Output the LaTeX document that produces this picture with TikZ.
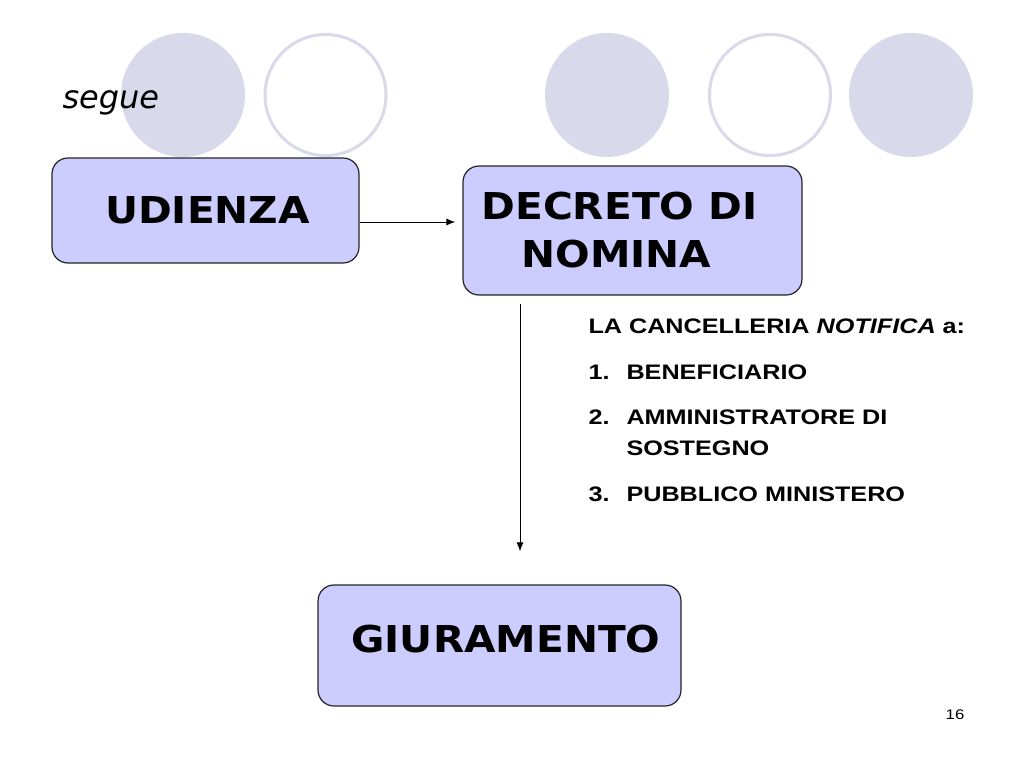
\documentclass[tikz,border=0pt]{standalone}
\usepackage{fontspec}
\usetikzlibrary{arrows.meta}
\newfontfamily\headfont{DejaVu Sans}[FakeStretch=1.1]
\newfontfamily\listfont{Liberation Sans}[FakeStretch=1.2]
\newfontfamily\seguefont{DejaVu Sans}
\definecolor{boxfill}{HTML}{CCCCFF}
\definecolor{dotcol}{HTML}{D9D9EC}
\begin{document}
\begin{tikzpicture}[x=1pt,y=-1pt,->,>={Latex[length=9pt,width=7pt]},line width=1pt,
  box/.style={draw=black!85,line width=1.2pt,fill=boxfill,rounded corners=16pt,align=center,
    font={\headfont\bfseries\fontsize{37}{48}\selectfont}},
  dotfull/.style={fill=dotcol,draw=none},
  dotring/.style={draw=dotcol,line width=3pt,fill=white},
  item/.style={anchor=base west,inner sep=0,font={\listfont\bfseries\fontsize{21}{25}\selectfont}}]
\useasboundingbox[fill=white] (0,0) rectangle (1024,768);
% circles on top
\fill[dotfull] (183,95) circle[radius=62];
\draw[dotring,-] (325.5,95) circle[radius=60.5];
\fill[dotfull] (607,95) circle[radius=62];
\draw[dotring,-] (770,95) circle[radius=60.5];
\fill[dotfull] (911,95) circle[radius=62];
\node[anchor=base west,font={\seguefont\itshape\fontsize{32}{36}\selectfont},inner sep=0] (segue) at (62,108) {segue};
% boxes
\node[box,minimum width=307,minimum height=105] (ud) at (205.5,210.5) {UDIENZA\kern-4pt};
\node[box,minimum width=339,minimum height=129] (dec) at (632.5,230.5) {DECRETO DI\kern26pt\\NOMINA\kern32pt};
\node[box,minimum width=363,minimum height=121] (giu) at (499.5,645.5) {\kern13pt GIURAMENTO\raisebox{0pt}[0pt][14pt]{}};
\path (ud.east |- 0,222) edge ([xshift=-7pt]dec.west |- 0,222);
\path ([yshift=-8pt]dec.south -| 520,0) edge ([yshift=33pt]giu.north -| 520,0);
% list
\node[item] (l0) at (588,333) {LA CANCELLERIA \textit{NOTIFICA} a:};
\node[item] (n1) at (588,379) {1.};
\node[item] (l1) at (626,379) {BENEFICIARIO};
\node[item] (n2) at (588,424) {2.};
\node[item] (l2) at (626,424) {AMMINISTRATORE DI};
\node[item] (l2b) at (626,455) {SOSTEGNO};
\node[item] (n3) at (588,501) {3.};
\node[item] (l3) at (626,501) {PUBBLICO MINISTERO};
\node[anchor=base,font={\listfont\fontsize{14}{16}\selectfont},inner sep=0] (pg) at (955,719) {16};
\end{tikzpicture}
\end{document}
